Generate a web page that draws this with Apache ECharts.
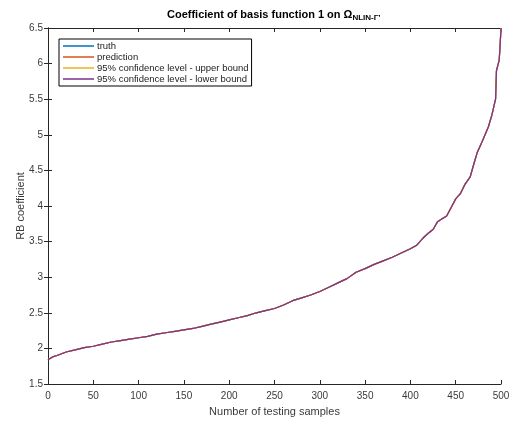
<!DOCTYPE html>
<html>
<head>
<meta charset="utf-8">
<script src="https://cdn.jsdelivr.net/npm/echarts@6/dist/echarts.min.js"></script>
<style>html,body{margin:0;padding:0;background:#fff}#c{width:517px;height:426px}</style>
</head>
<body>
<div id="c"></div>
<script>
// sample indices (number of testing samples)
var samples = [0,5,10,20,30,40,50,60,70,80,90,100,110,120,130,140,150,160,170,180,190,200,210,220,230,240,250,260,270,280,290,300,310,320,330,340,350,360,370,380,390,400,407,414,420,425,430,435,440,445,450,455,460,466,470,474,479,486,490,493,494,495,497,498,499,500];
// RB coefficient values
var truth = [1.84,1.88,1.90,1.95,1.98,2.01,2.03,2.06,2.09,2.11,2.13,2.15,2.17,2.20,2.22,2.24,2.26,2.28,2.31,2.34,2.37,2.40,2.43,2.46,2.50,2.53,2.56,2.61,2.67,2.71,2.75,2.80,2.86,2.92,2.98,3.07,3.12,3.18,3.23,3.28,3.34,3.40,3.45,3.55,3.62,3.67,3.78,3.82,3.86,3.98,4.10,4.17,4.30,4.41,4.59,4.76,4.90,5.11,5.28,5.45,5.50,5.90,6.00,6.05,6.25,6.50];
var prediction = truth.slice();
var upperBound = truth.slice();
var lowerBound = truth.slice();
var seriesNames = ['truth','prediction','95% confidence level - upper bound','95% confidence level - lower bound'];
var seriesColors = ['#0072BD','#D95319','#EDB120','#7E2F8E'];
var xTicks = [0,50,100,150,200,250,300,350,400,450,500];
var yTicks = [1.5,2,2.5,3,3.5,4,4.5,5,5.5,6,6.5];

function pairs(ys){ return samples.map(function(x,i){ return [x, ys[i]]; }); }
var allData = [truth, prediction, upperBound, lowerBound];

var axisCol = '#262626';
var labelCol = '#3a3a3a';
var font = 'Liberation Sans, Arial, Helvetica, sans-serif';
var chart = echarts.init(document.getElementById('c'), null, {renderer:'canvas'});
var base = {
  axisLine:{show:true, lineStyle:{color:axisCol, width:1}},
  axisTick:{show:true, inside:true, length:4, lineStyle:{color:axisCol}},
  splitLine:{show:false}
};
chart.setOption({
  animation:false,
  backgroundColor:'#fff',
  title:{
    text:'{t|Coefficient of basis function 1 on Ω}{s|NLIN-Γ\'}',
    left:162, top:3,
    textStyle:{rich:{
      t:{fontFamily:font, fontWeight:'bold', fontSize:11, color:'#000'},
      s:{fontFamily:font, fontWeight:'bold', fontSize:8, color:'#000', verticalAlign:'bottom', padding:[6,0,0,0]}
    }}
  },
  legend:{
    orient:'vertical', left:59, top:39,
    backgroundColor:'#fff', borderColor:'#000', borderWidth:1, borderRadius:0,
    padding:[2,3,2,4],
    itemWidth:31, itemHeight:1.5, itemGap:1, icon:'rect',
    textStyle:{fontFamily:font, fontSize:9.5, color:'#222', lineHeight:10, padding:[0,0,0,-2]},
    data:seriesNames
  },
  grid:{left:48, right:16, top:28, bottom:42},
  xAxis:[
    Object.assign({type:'value', min:0, max:500, interval:50, position:'bottom',
      name:'Number of testing samples', nameLocation:'middle', nameGap:22, nameMoveOverlap:false,
      nameTextStyle:{fontFamily:font, fontSize:11, color:labelCol},
      axisLabel:{fontFamily:font, fontSize:10, color:labelCol, margin:7,
        formatter:function(v){ return xTicks.indexOf(v)>=0 ? String(v) : ''; }}}, base),
    Object.assign({type:'value', min:0, max:500, interval:50, position:'top', axisLabel:{show:false}}, base)
  ],
  yAxis:[
    Object.assign({type:'value', min:1.5, max:6.5, interval:0.5, position:'left',
      name:'RB coefficient', nameLocation:'middle', nameGap:22, nameMoveOverlap:false,
      nameTextStyle:{fontFamily:font, fontSize:11, color:labelCol},
      axisLabel:{fontFamily:font, fontSize:10, color:labelCol, margin:5,
        formatter:function(v){ return yTicks.indexOf(v)>=0 ? String(v) : ''; }}}, base),
    Object.assign({type:'value', min:1.5, max:6.5, interval:0.5, position:'right', axisLabel:{show:false}}, base)
  ],
  series: seriesNames.map(function(n,i){
    return {name:n, type:'line', data:pairs(allData[i]), showSymbol:false, symbol:'none',
      lineStyle:{color:seriesColors[i], width:1.2}, itemStyle:{color:seriesColors[i]}, z:2+i};
  })
});
</script>
</body>
</html>
